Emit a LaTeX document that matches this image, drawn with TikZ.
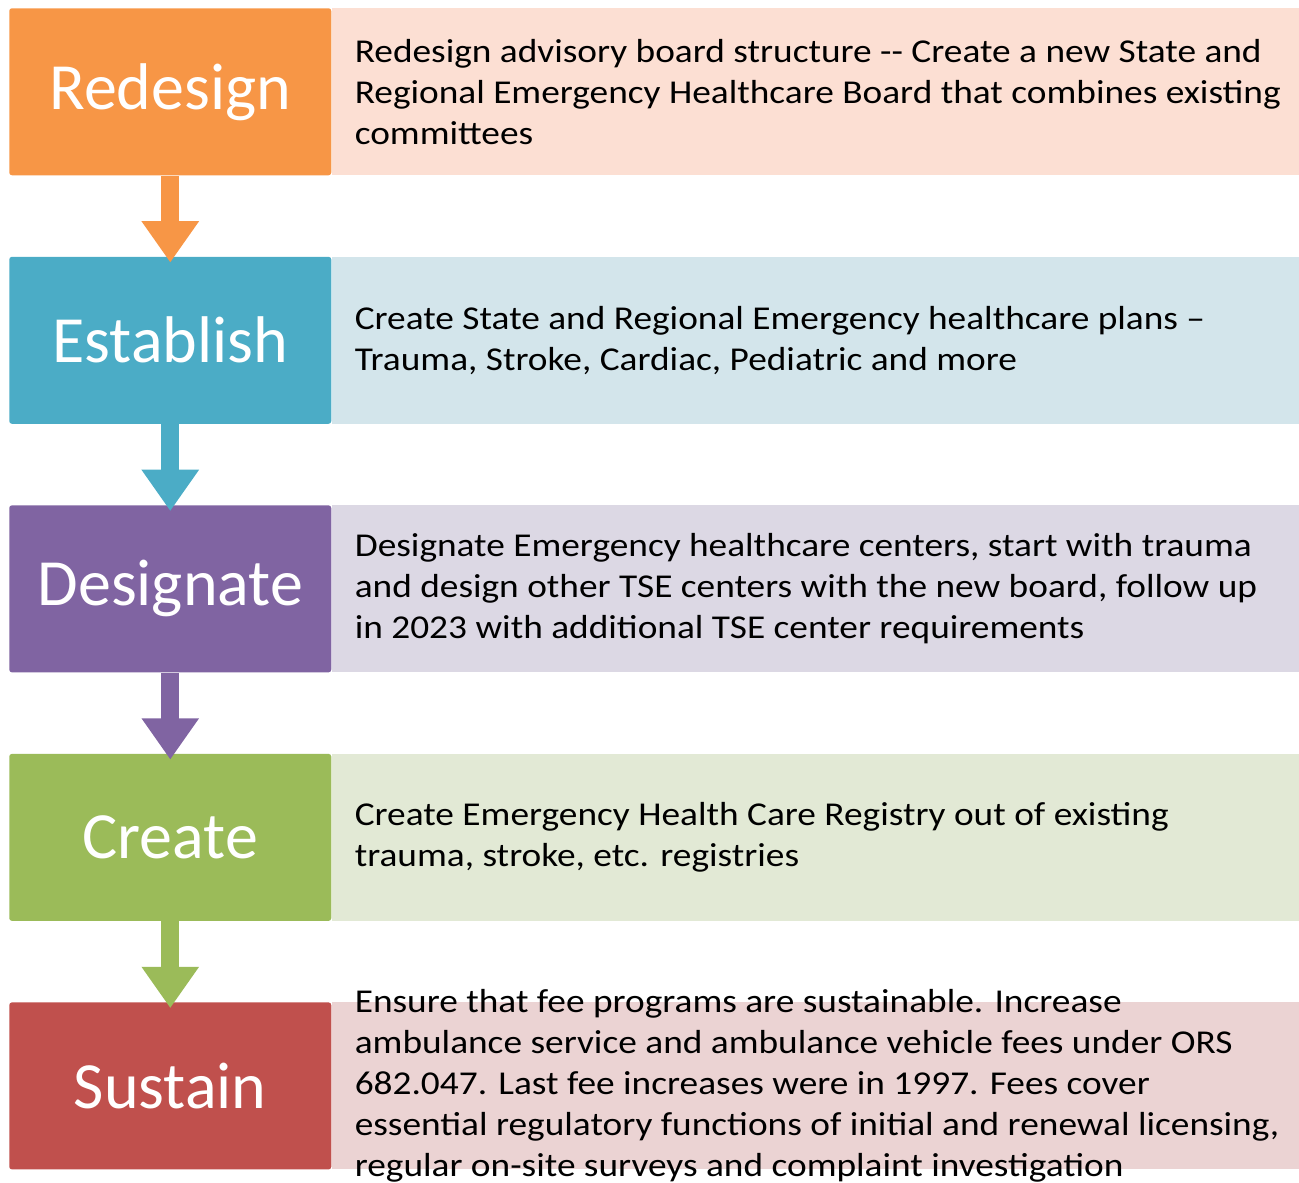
\documentclass[tikz,border=0pt]{standalone}
\usepackage{fontspec}
\setmainfont{Carlito}
\newfontfamily\blurbfont[FakeStretch=1.12]{Carlito}
\usetikzlibrary{positioning,arrows.meta}
\definecolor{orangeC}{HTML}{F79646}
\definecolor{orangeL}{HTML}{FCDFD3}
\definecolor{blueC}{HTML}{4BACC6}
\definecolor{blueL}{HTML}{D3E5EB}
\definecolor{purpleC}{HTML}{8064A2}
\definecolor{purpleL}{HTML}{DCD8E4}
\definecolor{greenC}{HTML}{9BBB59}
\definecolor{greenL}{HTML}{E2E9D5}
\definecolor{redC}{HTML}{C0504D}
\definecolor{redL}{HTML}{EBD3D3}
\tikzset{stage/.style={
    fill=#1, rounded corners=2pt,
    minimum width=241.5pt, minimum height=125.25pt, inner sep=0pt,
    text=white, font=\fontsize{49.5}{58}\selectfont},
  panel/.style={
    fill=#1, minimum width=726pt, minimum height=125.25pt, inner sep=0pt},
  blurb/.style={
    anchor=west, align=left, inner sep=0pt,
    font=\blurbfont\fontsize{25}{30.75}\selectfont},
  flow/.style={
    draw=#1, line width=13.5pt,
    -{Triangle[width=41pt,length=31pt]}, shorten >=-4.5pt}}

\begin{document}
\begin{tikzpicture}
	\useasboundingbox (0,0) rectangle (974.25pt,-886.5pt);

% left column of stages
\node[stage=orangeC, anchor=north west] (redesign) at (6.75pt,-6pt) {Redesign};
\node[stage=blueC, below=60.75pt of redesign] (establish) {Establish};
\node[stage=purpleC, below=60.75pt of establish] (designate) {Designate};
\node[stage=greenC, below=60.75pt of designate] (create) {Create};
\node[stage=redC, below=60.75pt of create] (sustain) {Sustain};

% panels next to them
\node[panel=orangeL, right=0pt of redesign] (redesign-panel) {};
\node[panel=blueL, right=0pt of establish] (establish-panel) {};
\node[panel=purpleL, right=0pt of designate] (designate-panel) {};
\node[panel=greenL, right=0pt of create] (create-panel) {};
\node[panel=redL, right=0pt of sustain] (sustain-panel) {};

\node[blurb] (redesign-text) at ([xshift=17.25pt]redesign-panel.west)
	{Redesign advisory board structure -{}- Create a new State and\\
	Regional Emergency Healthcare Board that combines existing\\
	committees};
\node[blurb] (establish-text) at ([xshift=17.25pt]establish-panel.west)
	{Create State and Regional Emergency healthcare plans –\\
	Trauma, Stroke, Cardiac, Pediatric and more};
\node[blurb] (designate-text) at ([xshift=17.25pt]designate-panel.west)
	{Designate Emergency healthcare centers, start with trauma\\
	and design other TSE centers with the new board, follow up\\
	in 2023 with additional TSE center requirements};
\node[blurb] (create-text) at ([xshift=17.25pt]create-panel.west)
	{Create Emergency Health Care Registry out of existing\\
	trauma, stroke, etc. registries};
\node[blurb] (sustain-text) at ([xshift=17.25pt]sustain-panel.west)
	{Ensure that fee programs are sustainable. Increase\\
	ambulance service and ambulance vehicle fees under ORS\\
	682.047. Last fee increases were in 1997. Fees cover\\
	essential regulatory functions of initial and renewal licensing,\\
	regular on-site surveys and complaint investigation};

% arrows between stages
\path[flow=orangeC] (redesign) -- (establish);
\path[flow=blueC] (establish) -- (designate);
\path[flow=purpleC] (designate) -- (create);
\path[flow=greenC] (create) -- (sustain);

\end{tikzpicture}
\end{document}
